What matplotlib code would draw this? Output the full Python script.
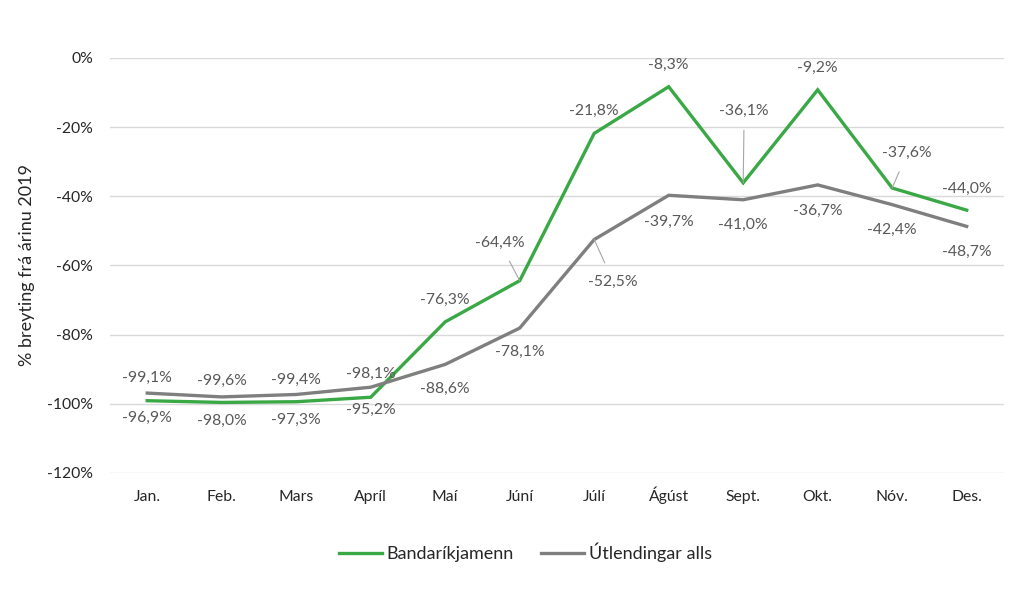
import matplotlib
matplotlib.use("Agg")
import matplotlib.pyplot as plt
from matplotlib.ticker import FuncFormatter

plt.rcParams['font.family'] = ['Lato', 'DejaVu Sans']

months = ["Jan.", "Feb.", "Mars", "Apríl", "Maí", "Júní", "Júlí", "Ágúst", "Sept.", "Okt.", "Nóv.", "Des."]
bandarikjamenn = [-99.1, -99.6, -99.4, -98.1, -76.3, -64.4, -21.8, -8.3, -36.1, -9.2, -37.6, -44.0]
utlendingar = [-96.9, -98.0, -97.3, -95.2, -88.6, -78.1, -52.5, -39.7, -41.0, -36.7, -42.4, -48.7]
series_names = ["Bandaríkjamenn", "Útlendingar alls"]

# label offsets in pixels (dx, dy) and whether a leader line is drawn
green_off = [(0, 23), (0, 22), (0, 22), (0, 23), (0, 22), (-20, 38), (0, 22), (0, 22), (1, 72), (0, 22), (15, 35), (0, 21)]
green_lead = [False]*5 + [True] + [False]*2 + [True] + [False] + [True] + [False]
gray_off = [(0, -25), (0, -24), (0, -25), (0, -23), (0, -25), (0, -24), (19, -42), (0, -27), (0, -25), (0, -26), (0, -25), (0, -25)]
gray_lead = [False]*6 + [True] + [False]*5

GREEN = "#3aa845"
GRAY = "#7f7f7f"
TXT = "#595959"

fig = plt.figure(figsize=(10.24, 5.93), dpi=100)
ax = fig.add_axes([0.1074, 0.2024, 0.8730, 0.6998])

x = list(range(len(months)))
ax.plot(x, bandarikjamenn, color=GREEN, lw=2.4, label=series_names[0], solid_joinstyle='miter', zorder=3)
ax.plot(x, utlendingar, color=GRAY, lw=2.4, label=series_names[1], solid_joinstyle='miter', zorder=3)

def fmt(v):
    return f"{v:.1f}".replace(".", ",") + "%"

for vals, offs, leads in [(bandarikjamenn, green_off, green_lead), (utlendingar, gray_off, gray_lead)]:
    for i, v in enumerate(vals):
        dx, dy = offs[i]
        kw = {}
        if leads[i]:
            kw['arrowprops'] = dict(arrowstyle='-', color='#a6a6a6', lw=0.8, shrinkA=7, shrinkB=0)
        ax.annotate(fmt(v), (i, v), xytext=(dx, dy), textcoords='offset pixels',
                    ha='center', va='center', fontsize=11.3, color=TXT, zorder=4, **kw)

ax.set_xlim(-0.5, 11.5)
ax.set_ylim(-120, 0)
ax.set_yticks(range(-120, 1, 20))
ax.yaxis.set_major_formatter(FuncFormatter(lambda v, p: f"{int(v)}%"))
ax.set_xticks(x)
ax.set_xticklabels(months)
for t in ax.get_xticklabels():
    t.set_verticalalignment('baseline')
ax.tick_params(axis='both', length=0, labelsize=11.3, labelcolor='#262626')
ax.tick_params(axis='x', pad=20.5)
ax.tick_params(axis='y', pad=12)
ax.grid(axis='y', color='#d9d9d9', lw=1)
ax.set_axisbelow(True)
for s in ax.spines.values():
    s.set_visible(False)

ax.set_ylabel("% breyting frá árinu 2019", fontsize=13, color='#262626', labelpad=9)

fig.legend(loc='center', bbox_to_anchor=(0.513, 0.069), ncol=2, frameon=False,
           fontsize=13, handlelength=2.4, handletextpad=0.25, columnspacing=1.5,
           labelcolor='#262626')

fig.savefig("out.png", dpi=100)
